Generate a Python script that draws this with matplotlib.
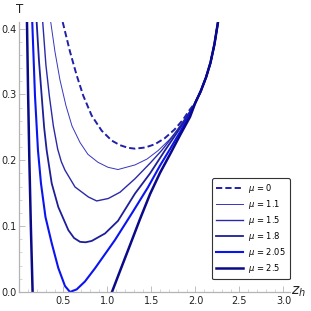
import numpy as np
import matplotlib.pyplot as plt
from matplotlib.ticker import MultipleLocator, FormatStrFormatter

# T(z_h) for several chemical potentials
zh_top = [2.00, 2.06, 2.12, 2.17, 2.215, 2.256]
T_top = [0.288, 0.305, 0.326, 0.348, 0.376, 0.41]

zh_mu0 = [0.491, 0.574, 0.650, 0.725, 0.820, 0.934, 1.048, 1.142, 1.233, 1.3125,
          1.43, 1.54, 1.65, 1.76, 1.86, 1.93]
T_mu0 = [0.41, 0.365, 0.329, 0.298, 0.268, 0.245, 0.230, 0.223, 0.219, 0.2177,
         0.2195, 0.2245, 0.2335, 0.2465, 0.262, 0.276]

zh_mu11 = [0.355, 0.403, 0.460, 0.528, 0.597, 0.688, 0.778, 0.892, 1.006, 1.119,
           1.3125, 1.45, 1.577, 1.70, 1.82, 1.92]
T_mu11 = [0.41, 0.365, 0.322, 0.283, 0.252, 0.227, 0.209, 0.197, 0.1894, 0.186,
          0.193, 0.202, 0.215, 0.231, 0.25, 0.27]

zh_mu15 = [0.264, 0.300, 0.339, 0.385, 0.434, 0.475, 0.517, 0.631, 0.782, 0.877,
           1.009, 1.142, 1.3125, 1.483, 1.616, 1.74, 1.86, 1.95]
T_mu15 = [0.41, 0.345, 0.298, 0.252, 0.217, 0.198, 0.185, 0.1595, 0.1444, 0.1383,
          0.142, 0.1515, 0.172, 0.1955, 0.215, 0.236, 0.259, 0.277]

zh_mu18 = [0.195, 0.222, 0.252, 0.280, 0.309, 0.366, 0.441, 0.555, 0.620, 0.688,
           0.750, 0.820, 0.972, 1.119, 1.3125, 1.483, 1.653, 1.77, 1.89, 1.96]
T_mu18 = [0.41, 0.35, 0.298, 0.25, 0.215, 0.165, 0.129, 0.094, 0.082, 0.0762,
          0.0755, 0.0775, 0.0889, 0.108, 0.1495, 0.180, 0.215, 0.238, 0.262, 0.278]

zh_mu205 = [0.145, 0.176, 0.210, 0.244, 0.295, 0.366, 0.441, 0.517, 0.574, 0.650,
            0.744, 0.858, 1.006, 1.085, 1.278, 1.46, 1.597, 1.71, 1.824, 1.93]
T_mu205 = [0.41, 0.298, 0.215, 0.165, 0.114, 0.0742, 0.0364, 0.0091, 0.0, 0.004,
           0.016, 0.036, 0.064, 0.079, 0.1197, 0.159, 0.192, 0.217, 0.243, 0.268]

zh_mu25_left = [0.085, 0.098, 0.112, 0.129, 0.149]
T_mu25_left = [0.41, 0.30, 0.20, 0.10, 0.0]
zh_mu25 = [1.051, 1.142, 1.256, 1.369, 1.483, 1.597, 1.71, 1.824, 1.938]
T_mu25 = [0.0, 0.0318, 0.0712, 0.1106, 0.1485, 0.181, 0.209, 0.238, 0.266]

labels = [r'$\mu$ = 0', r'$\mu$ = 1.1', r'$\mu$ = 1.5', r'$\mu$ = 1.8',
          r'$\mu$ = 2.05', r'$\mu$ = 2.5']

fig = plt.figure(figsize=(3.11, 3.11), dpi=100)
ax = fig.add_axes([0.0627, 0.0611, 0.87, 0.868])

ax.plot(zh_mu0 + zh_top, T_mu0 + T_top, color='#2020a8', lw=1.4,
        dashes=(3.2, 1.6), label=labels[0])
ax.plot(zh_mu11 + zh_top, T_mu11 + T_top, color='#3535c0', lw=0.7, label=labels[1])
ax.plot(zh_mu15 + zh_top, T_mu15 + T_top, color='#2a2aa8', lw=1.0, label=labels[2])
ax.plot(zh_mu18 + zh_top, T_mu18 + T_top, color='#1e1e98', lw=1.3, label=labels[3])
ax.plot(zh_mu205 + zh_top, T_mu205 + T_top, color='#0a14f0', lw=1.5, label=labels[4])
ax.plot(zh_mu25 + zh_top, T_mu25 + T_top, color='#0a0a88', lw=1.8, label=labels[5])
ax.plot(zh_mu25_left, T_mu25_left, color='#0a0a88', lw=1.8)

ax.set_xlim(0, 3.075)
ax.set_ylim(0, 0.41)

for s in ['top', 'right']:
    ax.spines[s].set_visible(False)
for s in ['left', 'bottom']:
    ax.spines[s].set_color('#b4b4b4')
    ax.spines[s].set_linewidth(0.9)

ax.set_xticks([0.5, 1.0, 1.5, 2.0, 2.5, 3.0])
ax.xaxis.set_minor_locator(MultipleLocator(0.1))
ax.set_yticks([0.0, 0.1, 0.2, 0.3, 0.4])
ax.yaxis.set_minor_locator(MultipleLocator(0.02))
ax.xaxis.set_major_formatter(FormatStrFormatter('%.1f'))
ax.yaxis.set_major_formatter(FormatStrFormatter('%.1f'))
ax.tick_params(which='major', direction='in', length=4, width=0.6, color='#b4b4b4',
               labelsize=7, labelcolor='#222222')
ax.tick_params(which='minor', direction='in', length=2.2, width=0.5, color='#c4c4c4')
ax.tick_params(axis='x', which='major', pad=3)
ax.tick_params(axis='y', which='major', pad=2)

fig.text(0.062, 0.968, 'T', ha='center', va='center', fontsize=8.5, color='#222222')
fig.text(0.958, 0.061, r'$z_h$', ha='center', va='center', fontsize=10, color='#222222')

leg = ax.legend(loc='upper left', bbox_to_anchor=(0.712, 0.422), fontsize=6,
                handlelength=3.2, labelspacing=0.36, borderpad=0.5,
                handletextpad=0.6, borderaxespad=0, fancybox=True,
                framealpha=1, edgecolor='#333333')
leg.get_frame().set_linewidth(0.8)

fig.savefig('out.png', dpi=100)
